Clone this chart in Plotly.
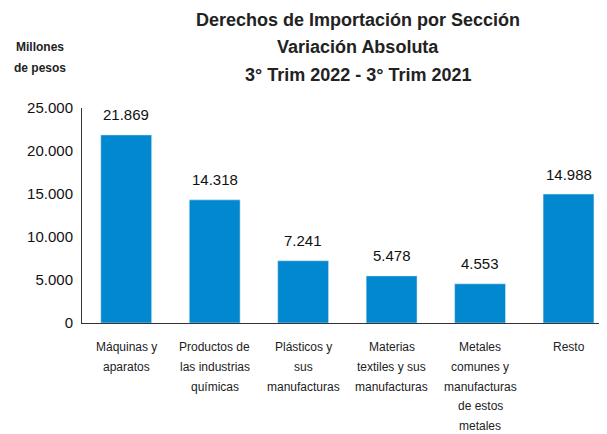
import plotly.graph_objects as go

categories = ["Máquinas y<br>aparatos", "Productos de<br>las industrias<br>químicas",
              "Plásticos y<br>sus<br>manufacturas", "Materias<br>textiles y sus<br>manufacturas",
              "Metales<br>comunes y<br>manufacturas<br>de estos<br>metales", "Resto"]
values = [21869, 14318, 7241, 5478, 4553, 14988]
tick_vals = [0, 5000, 10000, 15000, 20000, 25000]
title_lines = ["Derechos de Importación por Sección", "Variación Absoluta",
               "3° Trim 2022 - 3° Trim 2021"]
unit_lines = ["Millones", "de pesos"]

BAR = "#0288CE"
FONT = "Liberation Sans"

# page has an 8px body margin; work in page pixels and convert
OFF = 8
W, H = 607 - OFF, 434 - OFF
L, T, B = 82 - OFF, 108 - OFF, 111
PW, PH = W - L, H - T - B


def px_x(x):
    return (x - OFF - L) / PW


def px_y(y):
    return (H - B - (y - OFF)) / PH


fig = go.Figure()
fig.add_trace(go.Bar(x=list(range(len(categories))), y=values, marker_color=BAR,
                     width=0.575, hoverinfo="skip"))

for i, v in enumerate(values):
    fig.add_annotation(x=i, y=v, xref="x", yref="y", text=f"{v:,}".replace(",", "."),
                       showarrow=False, yshift=20, yanchor="middle",
                       font=dict(family=FONT, size=15, color="#111"))
for i, c in enumerate(categories):
    for j, line in enumerate(c.split("<br>")):
        fig.add_annotation(x=i, y=px_y(347 + j * 19.8), xref="x", yref="paper", text=line,
                           showarrow=False, yanchor="middle",
                           font=dict(family=FONT, size=12, color="#222"))
for k, t in enumerate(title_lines):
    fig.add_annotation(x=px_x(358), y=px_y(20 + 27.5 * k), xref="paper", yref="paper",
                       text=f"<b>{t}</b>", showarrow=False,
                       font=dict(family=FONT, size=18, color="#222"),
                       xanchor="center", yanchor="middle")
for k, t in enumerate(unit_lines):
    fig.add_annotation(x=px_x(40), y=px_y(47 + 21 * k), xref="paper", yref="paper",
                       text=f"<b>{t}</b>", showarrow=False,
                       font=dict(family=FONT, size=12, color="#222"),
                       xanchor="center", yanchor="middle")

fig.update_layout(
    width=W, height=H,
    margin=dict(l=L, r=0, t=T, b=B),
    plot_bgcolor="white", paper_bgcolor="white",
    separators=",.",
    showlegend=False,
    font=dict(family=FONT, color="#222"),
    xaxis=dict(range=[-0.5, 5.435], showticklabels=False, showline=True,
               linecolor="#333", linewidth=1, ticks="", showgrid=False, zeroline=False),
    yaxis=dict(range=[0, 25000], tickvals=tick_vals, tickformat=",d", showline=True,
               linecolor="#333", linewidth=1, showgrid=False, zeroline=False,
               ticks="", ticklabelstandoff=5,
               tickfont=dict(family=FONT, size=15, color="#111")),
)

fig.write_html("out.html")
